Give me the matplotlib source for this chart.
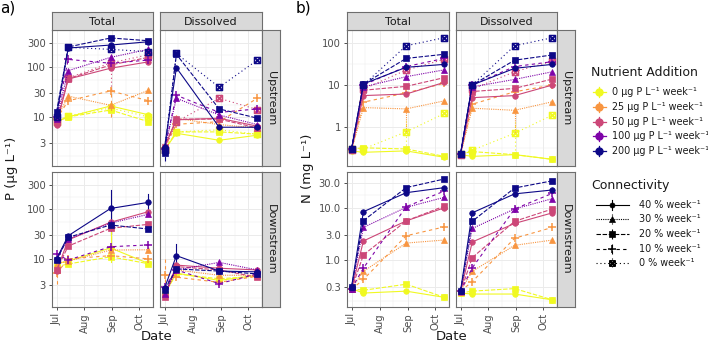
import numpy as np
import pandas as pd
import matplotlib
matplotlib.use('Agg')
import matplotlib.pyplot as plt
import matplotlib.dates as mdates
from matplotlib.path import Path

W, H = 708, 344

# ── data ───────────────────────────────────────────────────────────────
DATES = pd.to_datetime(['2021-07-01', '2021-07-14', '2021-08-30', '2021-10-11'])
MONTHS = pd.to_datetime(['2021-07-01', '2021-08-01', '2021-09-01', '2021-10-01'])
MONTH_LABELS = ['Jul', 'Aug', 'Sep', 'Oct']

NUTRIENTS = [0, 25, 50, 100, 200]
NUT_COLORS = ['#F0F921', '#F89540', '#CC4778', '#7E03A8', '#0D0887']
CONNECT = [40, 30, 20, 10, 0]

# (nutrient, connectivity) in row order of the value tables
UP_SERIES = [(200, 40), (200, 20), (200, 0), (100, 30), (100, 10),
             (50, 40), (50, 20), (50, 0), (25, 30), (25, 10),
             (0, 40), (0, 20), (0, 0)]
DOWN_SERIES = [s for s in UP_SERIES if s[1] != 0]

P_TOTAL_UP = [
    [10.9, 238, 273, 318], [12.5, 250, 378, 333], [10, 245, 224, 201],
    [9, 84, 155, 224], [10, 141, 118, 137],
    [7.0, 57, 94, 126], [8, 58, 109, 155], [8, 60, 120, 175],
    [9, 26, 17, 34], [9, 21, 33, 21],
    [8, 10, 16.5, 11], [8, 10, 13.7, 8], [8, 10.5, 15, 10],
]
P_DISS_UP = [
    [2.5, 96, 6.2, 6.2], [1.9, 178, 14.4, 9.4], [2.2, 185, 39, 137],
    [2.3, 23.5, 10.9, 7], [2.3, 27, 12.3, 14.4],
    [2.5, 8.7, 9.4, 6.5], [2.5, 9, 9, 6], [2.2, 8, 23.5, 14],
    [2.5, 9.3, 7, 6], [2.4, 7.1, 8, 23.6],
    [2.2, 4.7, 3.4, 4.3], [2.2, 5, 5, 4.5], [2.2, 5, 5.5, 4.5],
]
P_TOTAL_DOWN = [
    [10, 29, 102, 135], [9.5, 27, 47.5, 39.5],
    [10, 25, 52, 78], [12.4, 9.5, 17.5, 19],
    [5.7, 24, 54, 88], [6, 18, 41, 49],
    [8, 9, 15, 15.2], [5.1, 10, 11.6, 10],
    [8, 9.1, 16.5, 8.1], [7, 7.9, 11, 8],
]
P_DISS_DOWN = [
    [2.6, 11.6, 5.7, 5.5], [2.4, 6.3, 5.7, 5],
    [2.0, 6, 8.5, 6], [2.7, 6, 3.2, 5],
    [1.8, 7.5, 6.5, 6], [1.7, 7, 6, 4.3],
    [2.0, 6, 4.7, 4.7], [4.75, 4.3, 3.4, 4.5],
    [2.0, 5.2, 3.7, 4.7], [2.0, 5, 4, 4.5],
]
N_TOTAL_UP = [
    [0.3, 10.6, 26.4, 31], [0.3, 10.5, 43, 54], [0.3, 10, 86, 134],
    [0.3, 9, 15.8, 23], [0.3, 10, 27.5, 43],
    [0.28, 5.6, 6.1, 11.6], [0.28, 7.5, 9.3, 15], [0.28, 8, 22.7, 41],
    [0.28, 2.9, 2.7, 4.2], [0.28, 3.9, 6.5, 11],
    [0.27, 0.25, 0.27, 0.19], [0.3, 0.32, 0.3, 0.2], [0.3, 0.3, 0.77, 2.1],
]
N_DISS_UP = [
    [0.23, 10, 25, 31], [0.23, 10, 39, 52], [0.23, 10, 86, 134],
    [0.23, 9, 13.6, 20.7], [0.23, 10, 27.5, 36],
    [0.22, 5, 5.6, 10], [0.22, 7, 8.3, 13.9], [0.22, 8, 20.7, 37],
    [0.22, 2.8, 2.5, 4], [0.23, 3.5, 6.9, 10],
    [0.22, 0.2, 0.22, 0.17], [0.23, 0.26, 0.22, 0.17], [0.23, 0.28, 0.71, 1.93],
]
N_TOTAL_DOWN = [
    [0.3, 8.4, 19.5, 24.4], [0.3, 5.65, 24.4, 35.8],
    [0.28, 4.2, 10.2, 15.9], [0.28, 0.69, 10.5, 21],
    [0.27, 2.3, 5.6, 10], [0.27, 1.24, 5.6, 10.8],
    [0.28, 0.6, 2.1, 2.4], [0.27, 0.42, 2.9, 4.3],
    [0.28, 0.23, 0.25, 0.19], [0.28, 0.26, 0.34, 0.19],
]
N_DISS_DOWN = [
    [0.25, 8, 18.5, 22], [0.25, 5.5, 24, 33],
    [0.25, 4, 9.5, 15], [0.25, 0.7, 9.5, 19],
    [0.24, 2.2, 5, 8], [0.24, 1.1, 5.5, 9.5],
    [0.25, 0.6, 1.9, 2.4], [0.25, 0.38, 2.6, 4.2],
    [0.23, 0.22, 0.22, 0.17], [0.23, 0.25, 0.28, 0.17],
]

# error bars: (column, row, nutrient, connectivity, date index, low, high)
P_ERRBARS = [
    ('Total', 'Upstream', 25, 10, 2, 10, 45),
    ('Total', 'Upstream', 50, 0, 2, 35, 120),
    ('Total', 'Downstream', 200, 40, 2, 32, 240),
    ('Total', 'Downstream', 200, 40, 3, 87, 200),
    ('Total', 'Downstream', 0, 40, 2, 8.5, 35),
    ('Total', 'Downstream', 25, 10, 0, 3.2, 8),
    ('Dissolved', 'Upstream', 200, 20, 0, 1.3, 2.6),
    ('Dissolved', 'Downstream', 200, 40, 1, 7, 20),
    ('Dissolved', 'Downstream', 25, 10, 0, 2.5, 11),
]
N_ERRBARS = [
    ('Total', 'Upstream', 25, 30, 2, 0.8, 3.0),
    ('Total', 'Upstream', 0, 0, 2, 0.3, 1.4),
    ('Dissolved', 'Upstream', 25, 30, 2, 0.75, 2.6),
    ('Dissolved', 'Upstream', 0, 0, 2, 0.28, 1.3),
]

# ── styles ─────────────────────────────────────────────────────────────
SQX = Path([(-1, -1), (1, -1), (1, 1), (-1, 1), (-1, -1),
            (-1, -1), (1, 1), (-1, 1), (1, -1)],
           [Path.MOVETO, Path.LINETO, Path.LINETO, Path.LINETO, Path.CLOSEPOLY,
            Path.MOVETO, Path.LINETO, Path.MOVETO, Path.LINETO])
CON_STYLE = {
    40: dict(ls='-', marker='o', ms=4.0),
    30: dict(ls=(0, (1, 1)), marker='^', ms=4.3),
    20: dict(ls=(0, (4, 1.5)), marker='s', ms=4.1),
    10: dict(ls=(0, (3, 3)), marker='+', ms=6.2),
    0: dict(ls=(0, (1, 2.5)), marker=SQX, ms=4.3),
}
NUT_COLOR = dict(zip(NUTRIENTS, NUT_COLORS))

GRID = '#EBEBEB'
BORDER = '#6E6E6E'
TXT = '#4D4D4D'


def rect(x0, y0, x1, y1):
    return [x0 / W, 1 - y1 / H, (x1 - x0) / W, (y1 - y0) / H]


def minor_breaks(majors):
    lg = np.log10(majors)
    d = lg[1] - lg[0]
    ext = np.concatenate([[lg[0] - d], lg, [lg[-1] + d]])
    return 10 ** ((ext[:-1] + ext[1:]) / 2)


def draw_series(ax, series, values, errbars, col, row):
    xs = mdates.date2num(DATES)
    order = sorted(range(len(series)), key=lambda i: NUTRIENTS.index(series[i][0]))
    for i in order:
        nut, con = series[i]
        st = CON_STYLE[con]
        c = NUT_COLOR[nut]
        filled = con != 0 and con != 10
        ax.plot(xs, values[i], color=c, lw=0.8, ls=st['ls'], marker=st['marker'],
                ms=st['ms'], mfc=c if filled else 'none', mec=c,
                mew=1.1 if not filled else 0.5, zorder=3 + NUTRIENTS.index(nut) * 0.1)
    for ecol, erow, nut, con, k, lo, hi in errbars:
        if ecol == col and erow == row:
            ax.plot([xs[k], xs[k]], [lo, hi], color=NUT_COLOR[nut], lw=0.8,
                    ls=CON_STYLE[con]['ls'], zorder=3)


fig = plt.figure(figsize=(W / 100, H / 100), dpi=100)

XLIM = mdates.date2num(pd.to_datetime(['2021-06-26', '2021-10-16']))
X_MINOR = mdates.date2num(pd.to_datetime(['2021-06-16', '2021-07-16', '2021-08-16',
                                          '2021-09-16', '2021-10-16']))
ROWS = [('Upstream', 30, 166), ('Downstream', 172, 307)]

panels = [
    dict(tag='a)', cols=[('Total', 52, 153), ('Dissolved', 160, 262)],
         data={('Total', 'Upstream'): (UP_SERIES, P_TOTAL_UP),
               ('Dissolved', 'Upstream'): (UP_SERIES, P_DISS_UP),
               ('Total', 'Downstream'): (DOWN_SERIES, P_TOTAL_DOWN),
               ('Dissolved', 'Downstream'): (DOWN_SERIES, P_DISS_DOWN)},
         err=P_ERRBARS,
         ylims=[(1.04, 546), (1.09, 546)],
         yticks=[[3, 10, 30, 100, 300], [3, 10, 30, 100, 300]],
         ylabels=[['3', '10', '30', '100', '300'], ['3', '10', '30', '100', '300']],
         ylabel='P (µg L⁻¹)', ylab_x=12, tag_x=0),
    dict(tag='b)', cols=[('Total', 347, 449), ('Dissolved', 456, 557)],
         data={('Total', 'Upstream'): (UP_SERIES, N_TOTAL_UP),
               ('Dissolved', 'Upstream'): (UP_SERIES, N_DISS_UP),
               ('Total', 'Downstream'): (DOWN_SERIES, N_TOTAL_DOWN),
               ('Dissolved', 'Downstream'): (DOWN_SERIES, N_DISS_DOWN)},
         err=N_ERRBARS,
         ylims=[(0.118, 204), (0.124, 48.7)],
         yticks=[[1, 10, 100], [0.3, 1, 3, 10, 30]],
         ylabels=[['1', '10', '100'], ['0.3', '1.0', '3.0', '10.0', '30.0']],
         ylabel='N (mg L⁻¹)', ylab_x=307, tag_x=296),
]

for p in panels:
    for ri, (row, y0, y1) in enumerate(ROWS):
        for ci, (col, x0, x1) in enumerate(p['cols']):
            ax = fig.add_axes(rect(x0, y0, x1, y1))
            ax.set_yscale('log')
            ax.set_xlim(XLIM)
            ax.set_ylim(p['ylims'][ri])
            series, values = p['data'][(col, row)]

            # grid
            for v in minor_breaks(p['yticks'][ri]):
                ax.axhline(v, color=GRID, lw=0.35, zorder=0)
            for v in p['yticks'][ri]:
                ax.axhline(v, color=GRID, lw=0.7, zorder=0)
            for v in X_MINOR:
                ax.axvline(v, color=GRID, lw=0.35, zorder=0)
            for v in mdates.date2num(MONTHS):
                ax.axvline(v, color=GRID, lw=0.7, zorder=0)

            draw_series(ax, series, values, p['err'], col, row)

            ax.yaxis.set_minor_locator(plt.NullLocator())
            ax.set_yticks(p['yticks'][ri])
            ax.set_xticks(mdates.date2num(MONTHS))
            ax.set_yticklabels(p['ylabels'][ri] if ci == 0 else [])
            ax.set_xticklabels(MONTH_LABELS if ri == 1 else [], rotation=90)
            ax.tick_params(axis='y', length=2.5 if ci == 0 else 0, width=0.6,
                           color='#333333', labelsize=7.2, labelcolor=TXT, pad=2)
            ax.tick_params(axis='x', length=2.5 if ri == 1 else 0, width=0.6,
                           color='#333333', labelsize=7.2, labelcolor=TXT, pad=2)
            for s in ax.spines.values():
                s.set_color(BORDER)
                s.set_linewidth(0.8)

            if ri == 0:
                sax = fig.add_axes(rect(x0, 12, x1, 30))
                sax.set_facecolor('#D9D9D9')
                sax.set_xticks([])
                sax.set_yticks([])
                for s in sax.spines.values():
                    s.set_color(BORDER)
                    s.set_linewidth(0.8)
                sax.text(0.5, 0.45, col, ha='center', va='center', fontsize=8,
                         color='#1A1A1A', transform=sax.transAxes)
            if ci == 1:
                sax = fig.add_axes(rect(x1, y0, x1 + 18, y1))
                sax.set_facecolor('#D9D9D9')
                sax.set_xticks([])
                sax.set_yticks([])
                for s in sax.spines.values():
                    s.set_color(BORDER)
                    s.set_linewidth(0.8)
                sax.text(0.5, 0.5, row, ha='center', va='center', fontsize=8,
                         color='#1A1A1A', rotation=-90, transform=sax.transAxes)

    cx = (p['cols'][0][1] + p['cols'][1][2]) / 2
    fig.text(cx / W, 1 - 337 / H, 'Date', ha='center', va='center', fontsize=9.5,
             color='#1A1A1A')
    fig.text(p['ylab_x'] / W, 1 - 168 / H, p['ylabel'], ha='center', va='center',
             rotation=90, fontsize=9.5, color='#1A1A1A')
    fig.text(p['tag_x'] / W, 1 - 8 / H, p['tag'], ha='left', va='center',
             fontsize=11, color='black')

# ── legends ────────────────────────────────────────────────────────────
lax = fig.add_axes(rect(585, 55, 708, 290))
lax.set_xlim(585, 708)
lax.set_ylim(290, 55)
lax.axis('off')

lax.text(591, 73, 'Nutrient Addition', fontsize=9, color='#1A1A1A',
         ha='left', va='center')
for i, nut in enumerate(NUTRIENTS):
    y = 92 + i * 14.8
    c = NUT_COLOR[nut]
    lax.plot([593, 606], [y, y], color=c, lw=0.9)
    lax.plot([599.5, 599.5], [y - 5, y + 5], color=c, lw=0.9)
    lax.plot([599.5], [y], marker='o', ms=5, color=c)
    lax.text(612, y, f'{nut} µg P L⁻¹ week⁻¹', fontsize=6.9, color='#1A1A1A',
             ha='left', va='center')

lax.text(591, 186, 'Connectivity', fontsize=9, color='#1A1A1A',
         ha='left', va='center')
for i, con in enumerate(CONNECT):
    y = 204.5 + i * 14.7
    st = CON_STYLE[con]
    filled = con != 0 and con != 10
    lax.plot([596, 629], [y, y], color='black', lw=0.8, ls=st['ls'])
    lax.plot([612.5, 612.5], [y - 5, y + 5], color='black', lw=0.8, ls=st['ls'])
    lax.plot([612.5], [y], marker=st['marker'], ms=st['ms'] * 0.9, color='black',
             mfc='black' if filled else 'none', mew=1.1 if not filled else 0.5)
    lax.text(639, y, f'{con} % week⁻¹', fontsize=6.9, color='#1A1A1A',
             ha='left', va='center')

fig.savefig('out.png', dpi=100)
